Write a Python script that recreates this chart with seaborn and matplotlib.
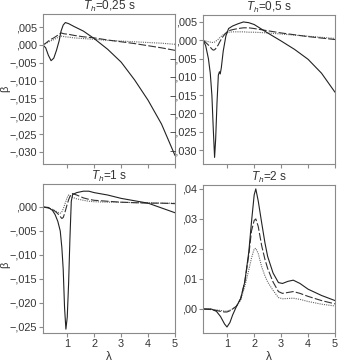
import matplotlib
matplotlib.use("Agg")
import matplotlib.pyplot as plt
from matplotlib.ticker import FuncFormatter
import seaborn as sns
import pandas as pd

# ---- data ----
lam_a = [0.1, 0.2, 0.3, 0.4, 0.5, 0.6, 0.7, 0.77, 0.85, 0.93, 1.05, 1.25, 1.6, 2.0, 2.5, 3.0, 3.5, 4.0, 4.5, 5.0]
sol_a = [0, -0.0008, -0.0029, -0.0044, -0.0037, -0.0015, 0.0012, 0.0039, 0.0056, 0.0063, 0.006, 0.0052, 0.0039, 0.0018, -0.0012, -0.0048, -0.0098, -0.0155, -0.0222, -0.031]
das_a = [0, 0.0005, 0.0011, 0.0016, 0.002, 0.0025, 0.003, 0.0034, 0.0032, 0.0031, 0.003, 0.0027, 0.0023, 0.002, 0.0014, 0.0009, 0.0004, -0.0002, -0.0008, -0.0015]
dot_a = [0, 0.0004, 0.0008, 0.0012, 0.0015, 0.0019, 0.0023, 0.0025, 0.0024, 0.0023, 0.0022, 0.002, 0.0018, 0.0016, 0.0013, 0.0011, 0.0009, 0.0007, 0.0005, 0.0002]

lam_b = [0.11, 0.2, 0.3, 0.37, 0.43, 0.48, 0.53, 0.57, 0.62, 0.67, 0.71, 0.74, 0.78, 0.85, 0.95, 1.05, 1.2, 1.4, 1.6, 1.8, 2.0, 2.5, 3.0, 3.5, 4.0, 4.5, 5.0]
sol_b = [0, -0.0015, -0.005, -0.009, -0.015, -0.024, -0.032, -0.027, -0.017, -0.0095, -0.0086, -0.0092, -0.0075, -0.003, 0.0012, 0.0032, 0.0039, 0.0045, 0.005, 0.0048, 0.0043, 0.002, -0.0002, -0.0025, -0.0052, -0.009, -0.0142]
das_b = [0, -0.0006, -0.0013, -0.0019, -0.0024, -0.0027, -0.0026, -0.0023, -0.0018, -0.0012, -0.0006, -0.0002, 0.0003, 0.0011, 0.002, 0.0026, 0.0029, 0.0032, 0.0034, 0.0034, 0.0032, 0.0026, 0.002, 0.0015, 0.001, 0.0006, 0.0002]
dot_b = [0, -0.0002, -0.0004, -0.0005, -0.0006, -0.0006, -0.0005, -0.0003, 0.0, 0.0003, 0.0006, 0.0008, 0.0011, 0.0015, 0.0019, 0.0022, 0.0023, 0.0023, 0.0023, 0.0022, 0.0022, 0.002, 0.0017, 0.0014, 0.0011, 0.0008, 0.0005]

lam_c = [0.11, 0.3, 0.45, 0.55, 0.65, 0.74, 0.8, 0.85, 0.9, 0.95, 1.0, 1.05, 1.1, 1.15, 1.2, 1.35, 1.6, 1.8, 2.0, 2.5, 3.0, 3.5, 4.0, 4.5, 5.0]
sol_c = [0, -0.0001, -0.0007, -0.0016, -0.003, -0.005, -0.0085, -0.013, -0.021, -0.0255, -0.023, -0.016, -0.0065, 0.0012, 0.0026, 0.003, 0.0033, 0.0033, 0.003, 0.0025, 0.0018, 0.0013, 0.0008, -0.0002, -0.0012]
das_c = [0, -0.0002, -0.0005, -0.0009, -0.0014, -0.002, -0.0024, -0.0022, -0.0014, -0.0004, 0.0006, 0.0015, 0.0022, 0.0027, 0.0028, 0.0025, 0.0019, 0.0016, 0.0014, 0.0012, 0.001, 0.0009, 0.0008, 0.0008, 0.0007]
dot_c = [0, -0.0002, -0.0005, -0.0008, -0.0011, -0.0013, -0.001, -0.0004, 0.0004, 0.0012, 0.002, 0.0025, 0.0024, 0.0022, 0.002, 0.0017, 0.0014, 0.0012, 0.0011, 0.001, 0.001, 0.0009, 0.0009, 0.0008, 0.0008]

lam_d = [0.11, 0.4, 0.6, 0.75, 0.9, 0.99, 1.1, 1.2, 1.35, 1.5, 1.65, 1.8, 1.9, 2.0, 2.06, 2.15, 2.28, 2.4, 2.5, 2.7, 2.9, 3.05, 3.25, 3.45, 3.7, 4.0, 4.5, 5.0]
sol_d = [0, 0, -0.0008, -0.0025, -0.005, -0.006, -0.0045, -0.002, 0.001, 0.0035, 0.009, 0.019, 0.029, 0.038, 0.040, 0.036, 0.0286, 0.022, 0.0175, 0.012, 0.0088, 0.0085, 0.0092, 0.0096, 0.0085, 0.0066, 0.0045, 0.0028]
das_d = [0, -0.0002, -0.0005, -0.0008, -0.001, -0.001, -0.0006, 0.0, 0.001, 0.0035, 0.009, 0.018, 0.026, 0.0295, 0.030, 0.0275, 0.021, 0.0165, 0.0135, 0.009, 0.0058, 0.0052, 0.0055, 0.0058, 0.0052, 0.0042, 0.0028, 0.0017]
dot_d = [0, -0.0001, -0.0003, -0.0005, -0.0007, -0.0007, -0.0004, 0.0, 0.001, 0.003, 0.0075, 0.013, 0.017, 0.020, 0.0202, 0.0185, 0.014, 0.011, 0.009, 0.0062, 0.0038, 0.0034, 0.0035, 0.0036, 0.0032, 0.0025, 0.0016, 0.001]

titles = [r"$T_h$=0,25 s", r"$T_h$=0,5 s", r"$T_h$=1 s", r"$T_h$=2 s"]
yticks_a = [0.005, 0.0, -0.005, -0.010, -0.015, -0.020, -0.025, -0.030]
yticks_c = [0.0, -0.005, -0.010, -0.015, -0.020, -0.025]
yticks_d = [0.0, 0.01, 0.02, 0.03, 0.04]
xticks = [1, 2, 3, 4, 5]

# ---- style ----
sns.set_style("ticks")
plt.rcParams["font.family"] = ["Liberation Sans", "DejaVu Sans"]
plt.rcParams["mathtext.fontset"] = "custom"
plt.rcParams["mathtext.rm"] = "Liberation Sans"
plt.rcParams["mathtext.it"] = "Liberation Sans:italic"
TXT = "#333333"
SPN = "#8a8a8a"

fig = plt.figure(figsize=(3.38, 3.64), dpi=100)
W, H = 338, 364
def axes_px(l, t, r, b):
    return fig.add_axes([l / W, 1 - b / H, (r - l) / W, (b - t) / H])

ax_a = axes_px(43, 14, 175, 164)
ax_b = axes_px(203, 15, 335, 164)
ax_c = axes_px(43, 184, 175, 333)
ax_d = axes_px(203, 185, 335, 333)

def fmt(dec):
    def f(v, pos):
        s = f"{abs(v):.{dec}f}"
        if s.startswith("0"):
            s = s[1:]
        s = s.replace(".", ",")
        if v < -1e-12:
            s = "\u2212" + s
        return s
    return FuncFormatter(f)

panels = [
    (ax_a, lam_a, sol_a, das_a, dot_a, (0.1, 5), (-0.0334, 0.0087), yticks_a, 3),
    (ax_b, lam_b, sol_b, das_b, dot_b, (0.1, 5), (-0.0338, 0.0069), yticks_a, 3),
    (ax_c, lam_c, sol_c, das_c, dot_c, (0.1, 5), (-0.0263, 0.0048), yticks_c, 3),
    (ax_d, lam_d, sol_d, das_d, dot_d, (0.1, 5), (-0.008, 0.0413), yticks_d, 2),
]
beta_y = {0: 0.50, 2: 0.455}

for i, (ax, lam, s, d, o, xl, yl, yt, dec) in enumerate(panels):
    df = pd.DataFrame({"lam": lam, "sol": s, "das": d, "dot": o})
    sns.lineplot(data=df, x="lam", y="dot", ax=ax, color="#666666", lw=0.8,
                 linestyle=(0, (1, 1)), errorbar=None)
    sns.lineplot(data=df, x="lam", y="das", ax=ax, color="#333333", lw=0.8,
                 linestyle=(0, (7, 2)), errorbar=None)
    sns.lineplot(data=df, x="lam", y="sol", ax=ax, color="#222222", lw=0.8,
                 errorbar=None)
    ax.set_xlim(*xl)
    ax.set_ylim(*yl)
    ax.set_xticks(xticks)
    ax.set_yticks(yt)
    ax.yaxis.set_major_formatter(fmt(dec))
    ax.tick_params(axis="both", length=3, width=0.8, color=SPN, labelsize=7.8,
                   labelcolor=TXT, pad=1.5)
    for sp in ax.spines.values():
        sp.set_visible(True)
        sp.set_color(SPN)
        sp.set_linewidth(0.8)
    ax.set_title(titles[i], fontsize=8.5, color=TXT, pad=2)
    ax.set_ylabel("")
    ax.set_xlabel("")
    if i < 2:
        ax.set_xticklabels([])
    else:
        ax.set_xlabel("\u03bb", fontsize=8.5, color=TXT, labelpad=1)
    if i in (0, 2):
        ax.set_ylabel("\u03b2", fontsize=8, color=TXT)
        ax.yaxis.set_label_coords(-33 / 132, beta_y[i])

fig.savefig("out.png", dpi=100)
